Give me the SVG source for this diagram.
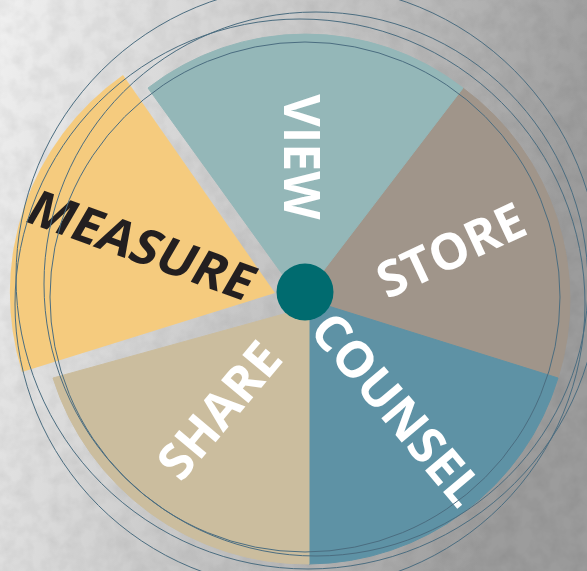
<svg xmlns="http://www.w3.org/2000/svg" width="587" height="571" viewBox="0 0 587 571">
<style>
.lbl{font-family:"Open Sans","Noto Sans","DejaVu Sans",sans-serif;font-weight:700;font-size:50px;fill:#ffffff;text-anchor:middle}
.dark{fill:#231f20}
.ring{fill:none;stroke:#4b6d80;stroke-width:1}
.sec{stroke-width:1;stroke-linejoin:round}
</style>
<defs>
<linearGradient id="bg" x1="0" y1="0" x2="1" y2="0.25">
<stop offset="0" stop-color="#f0f0f0"/>
<stop offset="0.3" stop-color="#d9d9d9"/>
<stop offset="0.65" stop-color="#bcbcbc"/>
<stop offset="1" stop-color="#9c9c9c"/>
</linearGradient>
<filter id="noise" x="0" y="0" width="100%" height="100%">
<feTurbulence type="fractalNoise" baseFrequency="0.06" numOctaves="3" seed="4"/>
<feColorMatrix type="matrix" values="0 0 0 0 0  0 0 0 0 0  0 0 0 0 0  0.3 0 0 0 -0.1"/>
</filter>
</defs>
<rect width="587" height="571" fill="url(#bg)"/>
<rect width="587" height="571" filter="url(#noise)" opacity="0.35"/>

<g id="measure">
<path d="M275,293 L22,372 A266,266 0 0 1 123,75 Z" fill="#f5cb7e"/>
<text class="lbl dark" transform="translate(142,245) rotate(20) skewX(-10)" y="18">MEASURE</text>
</g>
<g id="store">
<path class="sec" d="M300,300 L463,88 A263,263 0 0 1 558,378 Z" fill="#a0958a" stroke="#a0958a"/>
<text class="lbl" transform="translate(451,250) rotate(-25)" y="18">STORE</text>
</g>
<g id="view">
<path class="sec" d="M301,300 L148,88 A257,257 0 0 1 463,88 Z" fill="#94b7b8" stroke="#94b7b8" stroke-width="0.8"/>
<text class="lbl" transform="translate(302,157) rotate(90)" y="18">VIEW</text>
</g>
<g id="counsel">
<path class="sec" d="M309,300 L558,378 A262,262 0 0 1 309,564 Z" fill="#5e92a5" stroke="#5e92a5"/>
<text class="lbl" transform="translate(397,409) rotate(50)" y="18">COUNSEL</text>
</g>
<g id="share">
<path class="sec" d="M309,307 L309,564 A266,266 0 0 1 53,378 Z" fill="#cbbd9e" stroke="#cbbd9e" stroke-width="0.6"/>
<text class="lbl" transform="translate(219,410) rotate(-50)" y="18">SHARE</text>
</g>

<g id="rings">
<circle class="ring" cx="305" cy="297" r="255"/>
<circle class="ring" cx="316" cy="284" r="272"/>
<circle class="ring" cx="300" cy="304" r="285"/>
<circle class="ring" cx="308" cy="277" r="292"/>
</g>

<g id="hub">
<circle cx="305" cy="292" r="28.5" fill="#006b6f"/>
</g>
</svg>
